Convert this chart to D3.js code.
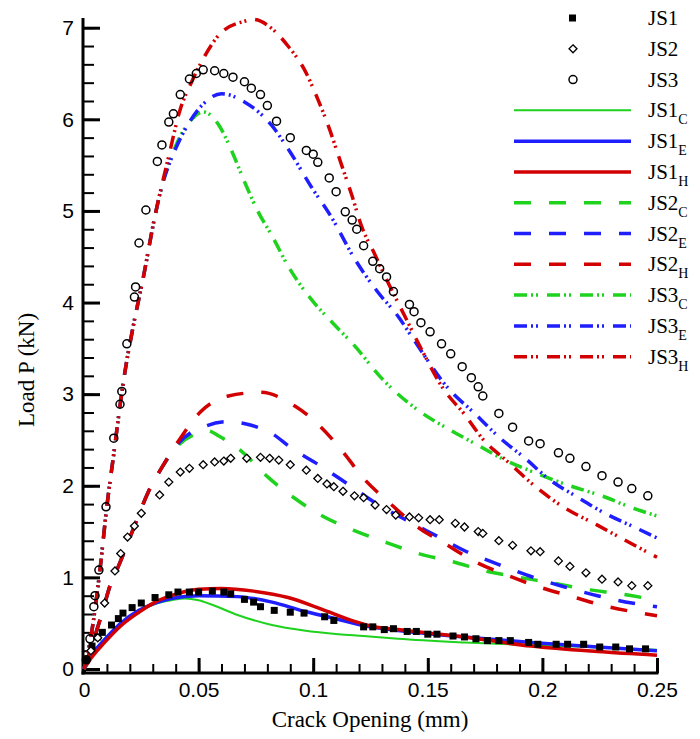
<!DOCTYPE html>
<html>
<head>
<meta charset="utf-8">
<style>
  body { margin: 0; background: #fff; }
  .tick text { font-family: "Liberation Sans", Arial, sans-serif; fill: #000; }
  .serif { font-family: "Liberation Serif", "DejaVu Serif", "Noto Serif", "Times New Roman", Times, serif; }
</style>
</head>
<body>
<svg width="700" height="739"></svg>
<script src="https://cdn.jsdelivr.net/npm/d3@7"></script>
<script>
  // experimental points [crack opening mm, load kN]
  var js1Exp = [[0.001,0.1],[0.0035,0.25],[0.006,0.35],[0.008,0.40],[0.012,0.48],[0.015,0.55],[0.017,0.61],[0.021,0.67],[0.025,0.72],[0.031,0.78],[0.037,0.81],[0.041,0.84],[0.046,0.84],[0.050,0.84],[0.056,0.85],[0.061,0.84],[0.064,0.82],[0.070,0.76],[0.074,0.73],[0.077,0.68],[0.083,0.64],[0.090,0.62],[0.096,0.61],[0.105,0.57],[0.109,0.53],[0.122,0.46],[0.126,0.46],[0.131,0.43],[0.135,0.44],[0.141,0.41],[0.145,0.41],[0.150,0.38],[0.154,0.38],[0.161,0.36],[0.166,0.35],[0.171,0.33],[0.176,0.31],[0.181,0.31],[0.186,0.31],[0.194,0.29],[0.198,0.27],[0.206,0.27],[0.211,0.27],[0.218,0.27],[0.225,0.24],[0.232,0.24],[0.238,0.22],[0.245,0.22]];
  var js2Exp = [[0.003,0.2],[0.006,0.34],[0.009,0.72],[0.0135,1.07],[0.016,1.26],[0.019,1.44],[0.022,1.56],[0.025,1.70],[0.033,1.90],[0.037,2.04],[0.042,2.15],[0.046,2.19],[0.052,2.23],[0.057,2.26],[0.061,2.27],[0.064,2.30],[0.071,2.30],[0.077,2.31],[0.081,2.30],[0.085,2.28],[0.090,2.23],[0.097,2.17],[0.102,2.08],[0.106,2.02],[0.109,1.99],[0.113,1.94],[0.118,1.89],[0.122,1.87],[0.127,1.79],[0.132,1.74],[0.136,1.68],[0.142,1.66],[0.146,1.65],[0.151,1.63],[0.155,1.63],[0.162,1.59],[0.166,1.55],[0.172,1.50],[0.174,1.48],[0.181,1.40],[0.187,1.35],[0.195,1.29],[0.199,1.28],[0.207,1.18],[0.212,1.12],[0.219,1.05],[0.226,0.98],[0.233,0.95],[0.239,0.91],[0.246,0.91]];
  var js3Exp = [[0.001,0.1],[0.0026,0.33],[0.0043,0.68],[0.0048,0.80],[0.0065,1.08],[0.0096,1.77],[0.013,2.52],[0.0157,2.89],[0.0165,3.03],[0.0187,3.55],[0.022,4.06],[0.0225,4.17],[0.024,4.65],[0.027,5.01],[0.032,5.54],[0.034,5.72],[0.037,5.97],[0.039,6.06],[0.042,6.27],[0.046,6.44],[0.049,6.50],[0.052,6.54],[0.057,6.53],[0.061,6.50],[0.065,6.46],[0.070,6.41],[0.073,6.34],[0.077,6.27],[0.080,6.15],[0.084,5.98],[0.090,5.80],[0.097,5.66],[0.100,5.62],[0.102,5.53],[0.107,5.36],[0.110,5.21],[0.114,4.99],[0.117,4.90],[0.119,4.80],[0.122,4.62],[0.126,4.45],[0.129,4.37],[0.132,4.28],[0.135,4.12],[0.142,3.98],[0.144,3.90],[0.147,3.78],[0.151,3.68],[0.156,3.55],[0.160,3.44],[0.165,3.30],[0.169,3.18],[0.172,3.08],[0.174,2.98],[0.181,2.79],[0.187,2.64],[0.194,2.49],[0.199,2.46],[0.207,2.36],[0.212,2.30],[0.219,2.21],[0.226,2.11],[0.233,2.04],[0.239,1.97],[0.246,1.89]];

  // model curves
  var js1C = [[0,0],[0.003,0.14],[0.009,0.33],[0.016,0.50],[0.024,0.63],[0.031,0.71],[0.038,0.75],[0.044,0.77],[0.050,0.75],[0.057,0.69],[0.067,0.59],[0.082,0.48],[0.096,0.42],[0.111,0.38],[0.122,0.36],[0.137,0.33],[0.166,0.29],[0.195,0.26],[0.209,0.25],[0.25,0.21]];
  var js1E = [[0,0],[0.002,0.10],[0.009,0.32],[0.016,0.50],[0.024,0.64],[0.031,0.72],[0.038,0.77],[0.050,0.80],[0.067,0.79],[0.082,0.73],[0.096,0.63],[0.108,0.56],[0.125,0.46],[0.137,0.42],[0.166,0.35],[0.195,0.29],[0.224,0.24],[0.25,0.20]];
  var js1H = [[0,0],[0.002,0.08],[0.009,0.29],[0.016,0.47],[0.024,0.62],[0.031,0.73],[0.038,0.80],[0.050,0.87],[0.060,0.88],[0.074,0.85],[0.089,0.78],[0.103,0.66],[0.118,0.52],[0.125,0.47],[0.137,0.43],[0.166,0.35],[0.195,0.25],[0.224,0.19],[0.25,0.15]];
  var js2C = [[0,0],[0.004,0.30],[0.008,0.62],[0.0115,0.92],[0.015,1.12],[0.022,1.56],[0.028,1.93],[0.034,2.20],[0.041,2.44],[0.048,2.56],[0.054,2.60],[0.059,2.54],[0.069,2.37],[0.080,2.10],[0.091,1.88],[0.104,1.67],[0.118,1.51],[0.132,1.38],[0.146,1.26],[0.161,1.17],[0.175,1.07],[0.190,1.00],[0.204,0.94],[0.219,0.87],[0.234,0.82],[0.25,0.75]];
  var js2E = [[0,0],[0.004,0.30],[0.008,0.62],[0.0115,0.92],[0.015,1.12],[0.022,1.56],[0.028,1.93],[0.034,2.20],[0.041,2.46],[0.053,2.65],[0.063,2.70],[0.073,2.66],[0.082,2.57],[0.090,2.42],[0.103,2.22],[0.115,2.02],[0.128,1.80],[0.141,1.62],[0.154,1.45],[0.167,1.28],[0.181,1.14],[0.195,1.01],[0.209,0.90],[0.224,0.80],[0.239,0.72],[0.25,0.68]];
  var js2H = [[0,0],[0.004,0.30],[0.008,0.62],[0.0115,0.92],[0.015,1.12],[0.022,1.56],[0.028,1.93],[0.034,2.20],[0.041,2.48],[0.051,2.81],[0.063,2.98],[0.077,3.02],[0.092,2.87],[0.103,2.65],[0.113,2.37],[0.122,2.08],[0.133,1.82],[0.145,1.56],[0.158,1.36],[0.170,1.18],[0.185,1.02],[0.198,0.90],[0.213,0.79],[0.227,0.69],[0.243,0.61],[0.25,0.58]];
  var js3C = [[0,0],[0.003,0.35],[0.007,1.09],[0.010,1.78],[0.013,2.35],[0.0157,2.87],[0.0174,3.17],[0.021,3.68],[0.026,4.29],[0.031,4.95],[0.034,5.27],[0.040,5.71],[0.046,5.97],[0.052,6.08],[0.059,5.93],[0.064,5.68],[0.070,5.32],[0.076,4.99],[0.082,4.73],[0.089,4.40],[0.099,4.04],[0.108,3.79],[0.118,3.53],[0.130,3.17],[0.146,2.82],[0.159,2.62],[0.172,2.44],[0.183,2.29],[0.198,2.13],[0.212,2.00],[0.227,1.88],[0.238,1.77],[0.25,1.67]];
  var js3E = [[0,0],[0.003,0.35],[0.007,1.09],[0.010,1.78],[0.013,2.35],[0.0157,2.87],[0.0174,3.17],[0.021,3.68],[0.026,4.29],[0.031,4.95],[0.034,5.27],[0.040,5.68],[0.046,5.97],[0.053,6.19],[0.060,6.28],[0.070,6.19],[0.082,5.93],[0.090,5.64],[0.099,5.27],[0.108,4.93],[0.118,4.48],[0.128,4.12],[0.137,3.85],[0.144,3.59],[0.159,3.06],[0.170,2.80],[0.182,2.51],[0.192,2.31],[0.203,2.07],[0.215,1.88],[0.228,1.69],[0.240,1.55],[0.25,1.43]];
  var js3H = [[0,0],[0.003,0.35],[0.007,1.09],[0.010,1.78],[0.013,2.35],[0.0157,2.87],[0.0174,3.17],[0.021,3.68],[0.026,4.29],[0.031,4.95],[0.037,5.60],[0.042,6.11],[0.047,6.41],[0.052,6.66],[0.060,6.95],[0.070,7.07],[0.074,7.09],[0.082,6.99],[0.089,6.80],[0.096,6.55],[0.102,6.22],[0.107,5.90],[0.112,5.53],[0.117,5.16],[0.121,4.84],[0.127,4.52],[0.133,4.20],[0.140,3.85],[0.146,3.55],[0.157,3.05],[0.166,2.78],[0.174,2.51],[0.185,2.26],[0.198,1.97],[0.209,1.77],[0.224,1.57],[0.235,1.42],[0.25,1.22]];

  var xTicks = [0, 0.05, 0.1, 0.15, 0.2, 0.25];
  var xTickLabels = ["0", "0.05", "0.1", "0.15", "0.2", "0.25"];
  var yTicks = [0, 1, 2, 3, 4, 5, 6, 7];

  var green = "#1ed21e", blue = "#1e1eff", red = "#d20000";
  var dashed = "17,18", dashDotDot = "13,4,2,3,2,9";

  var svg = d3.select("svg");
  var x = d3.scaleLinear().domain([0, 0.25]).range([84, 657]);
  var y = d3.scaleLinear().domain([0, 7]).range([669, 27.7]);
  var xAxisY = 673;

  // x axis
  svg.append("g")
    .attr("transform", "translate(0," + xAxisY + ")")
    .call(d3.axisBottom(x).tickValues(d3.range(0, 0.2501, 0.01)).tickSize(-9).tickFormat(""))
    .call(g => g.select(".domain").remove())
    .call(g => g.selectAll("line").attr("stroke-width", 2));
  svg.append("g")
    .attr("transform", "translate(0," + xAxisY + ")")
    .call(d3.axisBottom(x).tickValues(xTicks).tickSize(-15).tickPadding(9)
      .tickFormat((d, i) => xTickLabels[i]))
    .call(g => g.select(".domain").remove())
    .call(g => g.selectAll("line").attr("stroke-width", 3))
    .call(g => g.selectAll("text").style("font-size", "21px"));

  // y axis
  svg.append("g")
    .attr("transform", "translate(83,0)")
    .call(d3.axisLeft(y).tickValues(d3.range(0, 7.01, 0.2)).tickSize(-11).tickFormat(""))
    .call(g => g.select(".domain").remove())
    .call(g => g.selectAll("line").attr("stroke-width", 2));
  svg.append("g")
    .attr("transform", "translate(83,0)")
    .call(d3.axisLeft(y).tickValues(yTicks).tickSize(-17).tickPadding(9).tickFormat(d3.format("d")))
    .call(g => g.select(".domain").remove())
    .call(g => g.selectAll("line").attr("stroke-width", 3))
    .call(g => g.selectAll("text").style("font-size", "21px"));

  svg.append("line").attr("x1", 83).attr("x2", 83).attr("y1", 18).attr("y2", xAxisY + 1.5)
    .attr("stroke", "#000").attr("stroke-width", 3);
  svg.append("line").attr("x1", 81.5).attr("x2", 658.5).attr("y1", xAxisY).attr("y2", xAxisY)
    .attr("stroke", "#000").attr("stroke-width", 3);

  // axis titles
  svg.append("text").attr("class", "serif").attr("x", 370).attr("y", 727)
    .style("font-size", "23px")
    .attr("text-anchor", "middle").text("Crack Opening (mm)");
  svg.append("text").attr("class", "serif")
    .attr("transform", "translate(34,370) rotate(-90)")
    .style("font-size", "23px")
    .attr("text-anchor", "middle").text("Load P (kN)");

  var line = d3.line().x(d => x(d[0])).y(d => y(d[1])).curve(d3.curveMonotoneX);

  var curves = [
    { data: js1C, color: green, w: 2, dash: null, name: "JS1", sub: "C" },
    { data: js1E, color: blue, w: 3.5, dash: null, name: "JS1", sub: "E" },
    { data: js1H, color: red, w: 3.5, dash: null, name: "JS1", sub: "H" },
    { data: js2C, color: green, w: 3.5, dash: dashed, name: "JS2", sub: "C" },
    { data: js2E, color: blue, w: 3.5, dash: dashed, name: "JS2", sub: "E" },
    { data: js2H, color: red, w: 3.5, dash: dashed, name: "JS2", sub: "H" },
    { data: js3C, color: green, w: 3.5, dash: dashDotDot, name: "JS3", sub: "C" },
    { data: js3E, color: blue, w: 3.5, dash: dashDotDot, name: "JS3", sub: "E" },
    { data: js3H, color: red, w: 3.5, dash: dashDotDot, name: "JS3", sub: "H" }
  ];

  svg.append("g").selectAll("path").data(curves).join("path")
    .attr("d", d => line(d.data))
    .attr("fill", "none")
    .attr("stroke", d => d.color)
    .attr("stroke-width", d => d.w)
    .attr("stroke-dasharray", d => d.dash);

  // markers
  var diamond = d3.symbol().type(d3.symbolDiamond2).size(40);
  svg.append("g").selectAll("rect").data(js1Exp).join("rect")
    .attr("x", d => x(d[0]) - 3.5).attr("y", d => y(d[1]) - 3.5)
    .attr("width", 7).attr("height", 7).attr("fill", "#000");
  svg.append("g").selectAll("path").data(js2Exp).join("path")
    .attr("d", diamond)
    .attr("transform", d => "translate(" + x(d[0]) + "," + y(d[1]) + ")")
    .attr("fill", "#fff").attr("stroke", "#000").attr("stroke-width", 1.3);
  svg.append("g").selectAll("circle").data(js3Exp).join("circle")
    .attr("cx", d => x(d[0])).attr("cy", d => y(d[1])).attr("r", 4)
    .attr("fill", "none").attr("stroke", "#000").attr("stroke-width", 1.5);

  // legend
  var leg = svg.append("g");
  var rowY = d3.scaleLinear().domain([0, 11]).range([18, 356.7]);
  leg.append("rect").attr("x", 569).attr("y", rowY(0) - 3.5).attr("width", 7).attr("height", 7).attr("fill", "#000");
  leg.append("path").attr("d", diamond).attr("transform", "translate(573," + rowY(1) + ")")
    .attr("fill", "#fff").attr("stroke", "#000").attr("stroke-width", 1.3);
  leg.append("circle").attr("cx", 573).attr("cy", rowY(2)).attr("r", 4)
    .attr("fill", "none").attr("stroke", "#000").attr("stroke-width", 1.5);
  ["JS1", "JS2", "JS3"].forEach(function (t, i) {
    leg.append("text").attr("class", "serif").attr("x", 648).attr("y", rowY(i) + 7)
      .style("font-size", "21px").text(t);
  });
  curves.forEach(function (c, i) {
    var ry = rowY(i + 3);
    leg.append("line").attr("x1", 514).attr("x2", 631).attr("y1", ry).attr("y2", ry)
      .attr("stroke", c.color).attr("stroke-width", c.w).attr("stroke-dasharray", c.dash);
    var t = leg.append("text").attr("class", "serif").attr("x", 648).attr("y", ry + 7).style("font-size", "21px");
    t.append("tspan").text(c.name);
    t.append("tspan").attr("dy", 7).style("font-size", "14px").text(c.sub);
  });
</script>
</body>
</html>
